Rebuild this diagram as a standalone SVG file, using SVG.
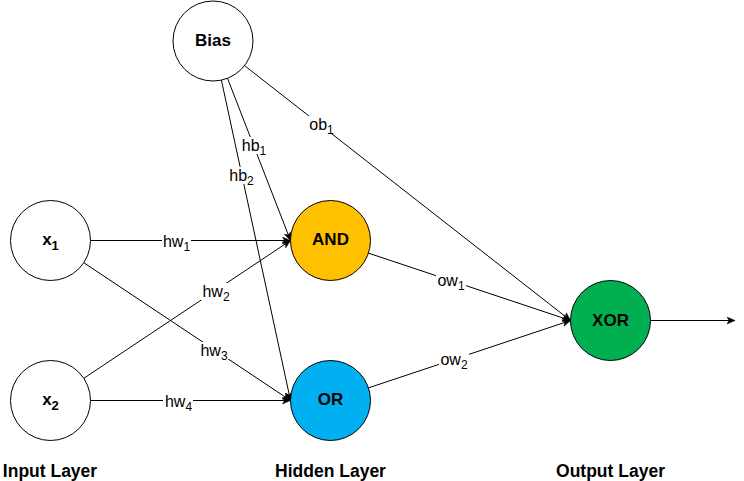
<svg xmlns="http://www.w3.org/2000/svg" width="744" height="481" viewBox="0 0 744 481">
<style>
  .node { stroke: #000; stroke-width: 1; }
  .nl { font-family: "Liberation Sans", Arial, sans-serif; font-size: 17px; font-weight: bold; fill: #000; text-anchor: middle; }
  .el { font-family: "Liberation Sans", Arial, sans-serif; font-size: 16px; fill: #000; text-anchor: middle; }
  .sub { font-size: 12px; }
  .nsub { font-size: 13px; }
  .bg { fill: #fff; stroke: none; }
  .edge { stroke: #000; stroke-width: 1; fill: none; marker-end: url(#arr); }
</style>
<defs>
  <marker id="arr" markerUnits="userSpaceOnUse" viewBox="0 0 9 8" markerWidth="9" markerHeight="8" refX="8.5" refY="4" orient="auto">
    <path d="M0.5,0.5 L8.5,4 L0.5,7.5 L2.5,4 Z" fill="#000" stroke="#000" stroke-width="0.5"/>
  </marker>
</defs>
<rect width="744" height="481" fill="#fff"/>
<g id="connectors">
  <line class="edge" x1="90.5" y1="240.5" x2="290.5" y2="240.5"/>
  <line class="edge" x1="83.8" y1="262.7" x2="290.5" y2="400.5"/>
  <line class="edge" x1="83.8" y1="378.3" x2="290.5" y2="240.5"/>
  <line class="edge" x1="90.5" y1="400.5" x2="290.5" y2="400.5"/>
  <line class="edge" x1="227.5" y1="78.3" x2="290.5" y2="240.5"/>
  <line class="edge" x1="221.4" y1="80.1" x2="290.5" y2="400.5"/>
  <line class="edge" x1="244.5" y1="65.6" x2="570.5" y2="320.5"/>
  <line class="edge" x1="368.4" y1="253.1" x2="570.5" y2="320.5"/>
  <line class="edge" x1="368.4" y1="387.9" x2="570.5" y2="320.5"/>
  <line class="edge" x1="650.5" y1="320.5" x2="735" y2="320.5"/>
  <g id="edge-labels">
    <rect class="bg" x="162" y="233" width="29" height="17"/>
    <text class="el" x="176.5" y="246.5">hw<tspan class="sub" dy="4">1</tspan></text>
    <rect class="bg" x="201" y="283" width="30" height="17"/>
    <text class="el" x="216" y="296.5">hw<tspan class="sub" dy="4">2</tspan></text>
    <rect class="bg" x="199" y="342" width="30" height="17"/>
    <text class="el" x="214" y="355.5">hw<tspan class="sub" dy="4">3</tspan></text>
    <rect class="bg" x="163" y="393" width="30" height="17"/>
    <text class="el" x="178.5" y="406.5">hw<tspan class="sub" dy="4">4</tspan></text>
    <rect class="bg" x="241" y="137" width="26" height="17"/>
    <text class="el" x="254" y="150.5">hb<tspan class="sub" dy="4">1</tspan></text>
    <rect class="bg" x="228" y="167" width="27" height="17"/>
    <text class="el" x="241.5" y="180.5">hb<tspan class="sub" dy="4">2</tspan></text>
    <rect class="bg" x="308" y="116" width="27" height="17"/>
    <text class="el" x="321.5" y="129.5">ob<tspan class="sub" dy="4">1</tspan></text>
    <rect class="bg" x="436" y="272" width="30" height="17"/>
    <text class="el" x="451" y="285.5">ow<tspan class="sub" dy="4">1</tspan></text>
    <rect class="bg" x="439" y="351" width="30" height="17"/>
    <text class="el" x="454" y="364.5">ow<tspan class="sub" dy="4">2</tspan></text>
  </g>
</g>
<g id="node-bias">
  <circle class="node" cx="213" cy="41" r="40" fill="#fff"/>
  <text class="nl" x="213" y="45.5">Bias</text>
</g>
<g id="node-x1">
  <circle class="node" cx="50.5" cy="240.5" r="40" fill="#fff"/>
  <text class="nl" x="50.5" y="245">x<tspan class="nsub" dy="5">1</tspan></text>
</g>
<g id="node-x2">
  <circle class="node" cx="50.5" cy="400.5" r="40" fill="#fff"/>
  <text class="nl" x="50.5" y="405">x<tspan class="nsub" dy="5">2</tspan></text>
</g>
<g id="node-and">
  <circle class="node" cx="330.5" cy="240.5" r="40" fill="#FFC000"/>
  <text class="nl" x="330.5" y="245">AND</text>
</g>
<g id="node-or">
  <circle class="node" cx="330.5" cy="400.5" r="40" fill="#00B0F0"/>
  <text class="nl" x="330.5" y="405">OR</text>
</g>
<g id="node-xor">
  <circle class="node" cx="610.5" cy="320.5" r="40" fill="#00B050"/>
  <text class="nl" x="610.5" y="325.5">XOR</text>
</g>
<g id="layer-labels">
  <text class="nl" x="50" y="476.5" style="font-size:17.5px">Input Layer</text>
  <text class="nl" x="330.5" y="476.5" style="font-size:17.5px">Hidden Layer</text>
  <text class="nl" x="610.5" y="476.5" style="font-size:17.5px">Output Layer</text>
</g>
</svg>
